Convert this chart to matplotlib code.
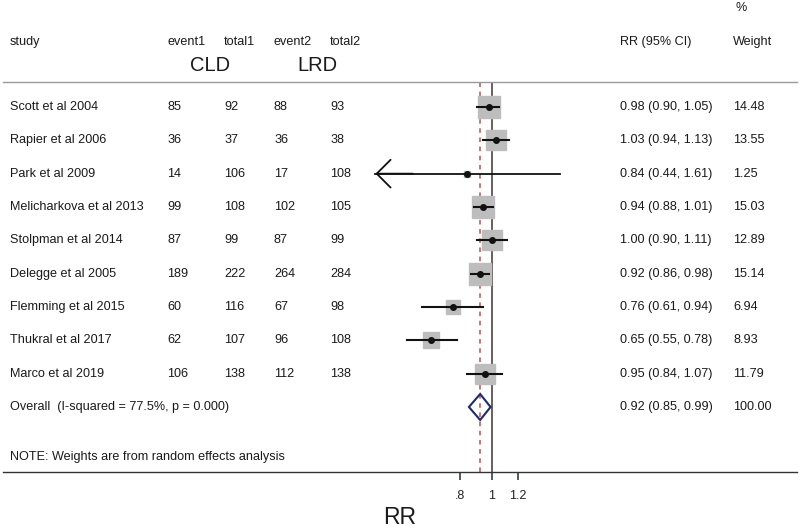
import numpy as np
import matplotlib
matplotlib.use('Agg')
import matplotlib.pyplot as plt
import matplotlib.transforms as mtransforms

plt.rcParams['font.family'] = ['Liberation Sans', 'DejaVu Sans']

# 数据
studies = ['Scott et al 2004', 'Rapier et al 2006', 'Park et al 2009',
           'Melicharkova et al 2013', 'Stolpman et al 2014', 'Delegge et al 2005',
           'Flemming et al 2015', 'Thukral et al 2017', 'Marco et al 2019']
event1 = [85, 36, 14, 99, 87, 189, 60, 62, 106]
total1 = [92, 37, 106, 108, 99, 222, 116, 107, 138]
event2 = [88, 36, 17, 102, 87, 264, 67, 96, 112]
total2 = [93, 38, 108, 105, 99, 284, 98, 108, 138]
rr = [0.98, 1.03, 0.84, 0.94, 1.00, 0.92, 0.76, 0.65, 0.95]
lo = [0.90, 0.94, 0.44, 0.88, 0.90, 0.86, 0.61, 0.55, 0.84]
hi = [1.05, 1.13, 1.61, 1.01, 1.11, 0.98, 0.94, 0.78, 1.07]
weight = [14.48, 13.55, 1.25, 15.03, 12.89, 15.14, 6.94, 8.93, 11.79]
overall = (0.92, 0.85, 0.99)
overall_label = 'Overall  (I-squared = 77.5%, p = 0.000)'
note = 'NOTE: Weights are from random effects analysis'
xticks = [0.8, 1, 1.2]
xticklabels = ['.8', '1', '1.2']
clipped = ['Park et al 2009']  # CI 超出显示范围, 画箭头

W, H = 800, 529
fig = plt.figure(figsize=(W / 100, H / 100), dpi=100)

# 森林图坐标轴 (log 刻度), 占满整幅宽度
px_left, px_right, px_top, px_bot = 3, 797, 82, 472
px_one, px_per_ln = 492, 142.0
ax = fig.add_axes([px_left / W, 1 - px_bot / H, (px_right - px_left) / W, (px_bot - px_top) / H])
ax.set_xscale('log')
ax.set_xlim(np.exp((px_left - px_one) / px_per_ln), np.exp((px_right - px_one) / px_per_ln))
ax.set_ylim(10.95, -0.75)
for s in ['left', 'right']:
    ax.spines[s].set_visible(False)
ax.spines['top'].set_color('#9a9a9a')
ax.spines['top'].set_linewidth(1.0)
ax.spines['bottom'].set_color('#333333')
ax.spines['bottom'].set_linewidth(1.0)
ax.set_yticks([])
ax.set_xticks(xticks)
ax.set_xticklabels(xticklabels)
ax.xaxis.set_minor_locator(matplotlib.ticker.NullLocator())
ax.tick_params(axis='x', length=6, width=1.2, color='#2f3e4e', pad=7, labelsize=9, labelcolor='#222222')

# 参考线
ax.axvline(1, color='#5e5252', lw=1.3, zorder=1)
ax.axvline(overall[0], color='#c0504d', lw=1.1, ls=(0, (3, 3)), zorder=1)

ypos = np.arange(len(studies))
scale = 5.65  # px per sqrt(weight)
for i in range(len(studies)):
    side = scale * np.sqrt(weight[i]) * 72 / 100
    ax.plot([rr[i]], [ypos[i]], marker='s', ms=side, color='#bdbdbd', mec='#bdbdbd', zorder=2)
    if studies[i] in clipped:
        ax.plot([lo[i], hi[i]], [ypos[i], ypos[i]], color='#111111', lw=1.3, zorder=3)
        ax.annotate('', xy=(lo[i], ypos[i]), xytext=(lo[i] * 1.3, ypos[i]),
                    arrowprops=dict(arrowstyle='->, head_length=0.5, head_width=0.5', lw=1.3,
                                    color='#111111', mutation_scale=20, shrinkA=0, shrinkB=0),
                    zorder=3)
    else:
        ax.plot([lo[i], hi[i]], [ypos[i], ypos[i]], color='#111111', lw=1.5, zorder=3)
    ax.plot([rr[i]], [ypos[i]], marker='o', ms=4, color='#111111', zorder=4)

# 合并效应菱形
yo = len(studies)
dh = 0.39
ax.fill([overall[1], overall[0], overall[2], overall[0], overall[1]],
        [yo, yo - dh, yo, yo + dh, yo], facecolor='none', edgecolor='#1f2a6e', lw=1.5, zorder=3)

# 文本列
tr = mtransforms.blended_transform_factory(fig.transFigure, ax.transData)
fs = 9.1
col = '#1a1a1a'
def txt(xpx, y, s, ha='left', size=fs):
    ax.text(xpx / W, y, s, transform=tr, ha=ha, va='center', fontsize=size, color=col, clip_on=False)

hy = -1.95
txt(10, hy, 'study')
txt(167, hy, 'event1')
txt(224, hy, 'total1')
txt(274, hy, 'event2')
txt(330, hy, 'total2')
txt(620, hy, 'RR (95% CI)')
txt(733, hy, 'Weight')
txt(735, -2.97, '%')
txt(210, -1.23, 'CLD', ha='center', size=14.5)
txt(317, -1.23, 'LRD', ha='center', size=14.5)

for i in range(len(studies)):
    y = ypos[i]
    txt(10, y, studies[i])
    txt(167, y, str(event1[i]))
    txt(224, y, str(total1[i]))
    txt(274, y, str(event2[i]))
    txt(330, y, str(total2[i]))
    txt(620, y, '%.2f (%.2f, %.2f)' % (rr[i], lo[i], hi[i]))
    txt(733, y, '%.2f' % weight[i])

txt(10, yo, overall_label)
txt(620, yo, '%.2f (%.2f, %.2f)' % overall)
txt(733, yo, '%.2f' % sum(weight))
txt(10, yo + 1.5, note)

fig.text(400 / W, 1 - 517 / H, 'RR', ha='center', va='center', fontsize=16.5, color=col)

fig.savefig('out.png', dpi=100, facecolor='white')
